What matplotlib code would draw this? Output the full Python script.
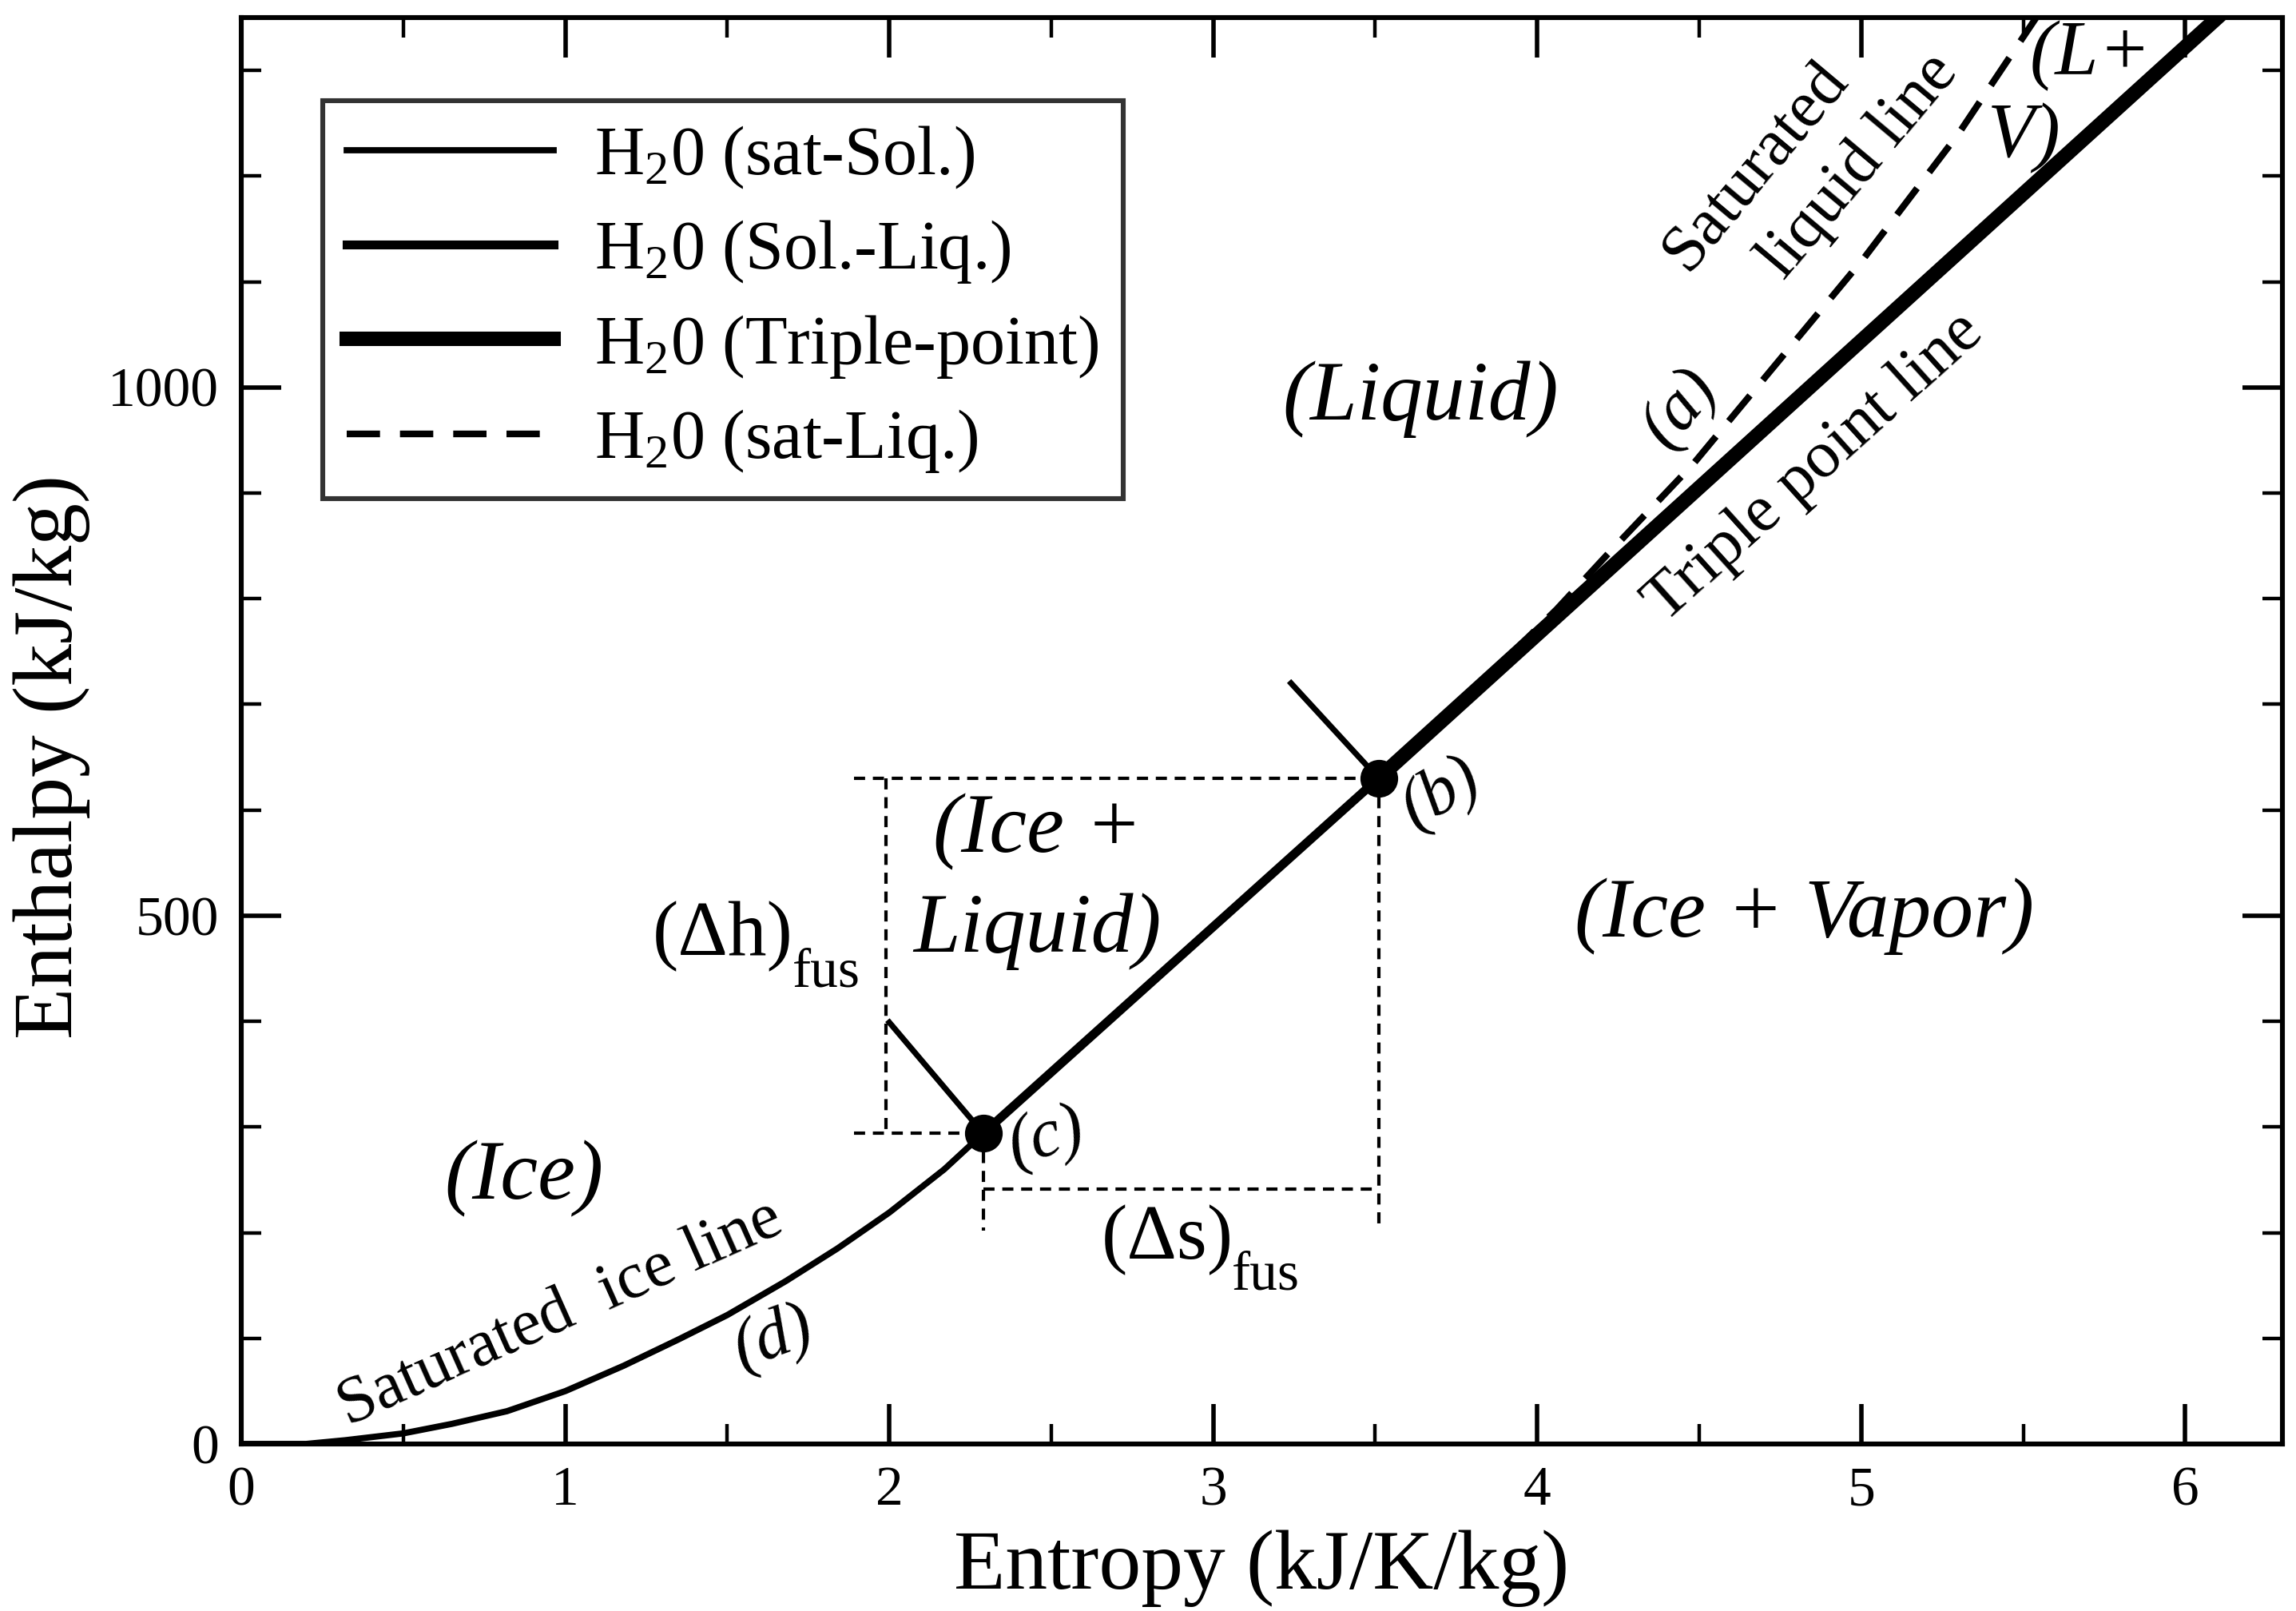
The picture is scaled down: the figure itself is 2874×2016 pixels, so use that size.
import matplotlib.pyplot as plt
from matplotlib.ticker import MultipleLocator

plt.rcParams['font.family'] = ['Liberation Serif', 'DejaVu Serif']
plt.rcParams['mathtext.fontset'] = 'custom'
plt.rcParams['mathtext.rm'] = 'Liberation Serif'
plt.rcParams['mathtext.it'] = 'Liberation Serif:italic'
plt.rcParams['mathtext.default'] = 'regular'
plt.rcParams['lines.scale_dashes'] = False

# Saturated ice line (sat-Sol.)
s_ice = [0.0, 0.20, 0.32, 0.50, 0.65, 0.82, 1.0, 1.18, 1.35, 1.5, 1.68, 1.84, 2.0, 2.17, 2.29]
h_ice = [0, 0, 3.5, 10, 19, 31, 50, 74, 99, 122, 154, 185, 219, 260, 294]

# Solid-liquid line, (c) -> (b)
s_sl = [2.29, 3.51]
h_sl = [294, 630]

# Triple point line
s_tp = [3.51, 6.10]
h_tp = [630, 1350]

# Saturated liquid line
s_liq = [3.8, 4.06, 4.22, 4.48, 5.01, 5.3, 5.54]
h_liq = [712, 790, 843, 927, 1123, 1240, 1350]

# points (c) and (b)
s_pts = [2.29, 3.51]
h_pts = [294, 630]

# short marker lines at (c) and (b)
lead_c_s = [2.0, 2.29]
lead_c_h = [399, 294]
lead_b_s = [3.24, 3.51]
lead_b_h = [720, 630]

# construction lines for (dh)_fus and (ds)_fus
guide_s = [[1.89, 3.51], [1.99, 1.99], [1.89, 2.29], [2.29, 2.29], [3.51, 3.51], [2.29, 3.51]]
guide_h = [[630, 630], [630, 294], [294, 294], [294, 202], [630, 202], [241, 241]]

fig = plt.figure(figsize=(14.37, 10.08), dpi=200)
ax = fig.add_axes([0.1051, 0.1037, 0.889, 0.8854])

for gs, gh in zip(guide_s, guide_h):
    ax.plot(gs, gh, color='black', lw=1.5, dashes=(5, 3.5))

l1, = ax.plot(s_ice, h_ice, color='black', lw=2.8, label='H$_2$0 (sat-Sol.)')
l2, = ax.plot(s_sl, h_sl, color='black', lw=4, label='H$_2$0 (Sol.-Liq.)')
l4, = ax.plot(s_liq, h_liq, color='black', lw=3, dashes=(15, 9), label='H$_2$0 (sat-Liq.)')
l3, = ax.plot(s_tp, h_tp, color='black', lw=6.5, label='H$_2$0 (Triple-point)')
ax.plot(lead_c_s, lead_c_h, color='black', lw=2.6)
ax.plot(lead_b_s, lead_b_h, color='black', lw=2.6)
ax.plot(s_pts, h_pts, 'o', color='black', ms=16, zorder=5)

ax.set_xlim(0, 6.3)
ax.set_ylim(0, 1350)
ax.xaxis.set_major_locator(MultipleLocator(1))
ax.xaxis.set_minor_locator(MultipleLocator(0.5))
ax.yaxis.set_major_locator(MultipleLocator(500))
ax.yaxis.set_minor_locator(MultipleLocator(100))
ax.tick_params(which='both', direction='in', top=True, right=True, labelsize=25, pad=10)
ax.tick_params(which='major', length=18, width=2.0)
ax.tick_params(which='minor', length=9, width=1.6)
for sp in ax.spines.values():
    sp.set_linewidth(2.2)

ax.set_xlabel('Entropy (kJ/K/kg)', fontsize=38)
ax.set_ylabel('Enthalpy (kJ/kg)', fontsize=38)
ax.xaxis.set_label_coords(0.50, -0.06)
ax.yaxis.set_label_coords(-0.074, 0.482)

leg = ax.legend(handles=[l1, l2, l3, l4], loc='upper left', bbox_to_anchor=(0.040, 0.942),
                fontsize=31, frameon=True, fancybox=False, edgecolor='black',
                handlelength=3.0, handletextpad=0.6, labelspacing=0.4, borderpad=0.35,
                borderaxespad=0)
leg.get_frame().set_linewidth(2.2)

# region labels
ax.text(0.873, 251, '(Ice)', fontsize=38, style='italic', ha='center', va='center')
ax.text(3.64, 989, '(Liquid)', fontsize=38, style='italic', ha='center', va='center')
ax.text(2.457, 579, '(Ice +', fontsize=38, style='italic', ha='center', va='center')
ax.text(2.457, 485, 'Liquid)', fontsize=38, style='italic', ha='center', va='center')
ax.text(4.824, 499, '(Ice + Vapor)', fontsize=38, style='italic', ha='center', va='center')
ax.text(5.706, 1314, '(L+', fontsize=35, style='italic', ha='center', va='center')
ax.text(5.502, 1236, 'V)', fontsize=35, style='italic', ha='center', va='center')

# point labels
ax.text(4.44, 981, '(a)', fontsize=31, style='italic', rotation=50, ha='center', va='center')
ax.text(3.704, 616, '(b)', fontsize=31, style='italic', rotation=30, ha='center', va='center')
ax.text(2.486, 290, '(c)', fontsize=31, style='italic', rotation=15, ha='center', va='center')
ax.text(1.645, 99, '(d)', fontsize=31, style='italic', rotation=20, ha='center', va='center')

# line labels
ax.text(0.985, 123, 'Saturated  ice line', fontsize=30, rotation=24, ha='center', va='center')
ax.text(4.675, 1209, 'Saturated', fontsize=30, rotation=50, ha='center', va='center')
ax.text(4.995, 1209, 'liquid line', fontsize=30, rotation=50, ha='center', va='center')
ax.text(4.856, 924, 'Triple point line', fontsize=30, rotation=42, ha='center', va='center')

# fusion differences
ax.text(1.268, 463, '(Δh)', fontsize=35, ha='left', va='baseline')
ax.text(1.70, 433, 'fus', fontsize=25, ha='left', va='baseline')
ax.text(2.654, 175, '(Δs)', fontsize=35, ha='left', va='baseline')
ax.text(3.058, 146, 'fus', fontsize=25, ha='left', va='baseline')

plt.savefig('out.png', dpi=200)
